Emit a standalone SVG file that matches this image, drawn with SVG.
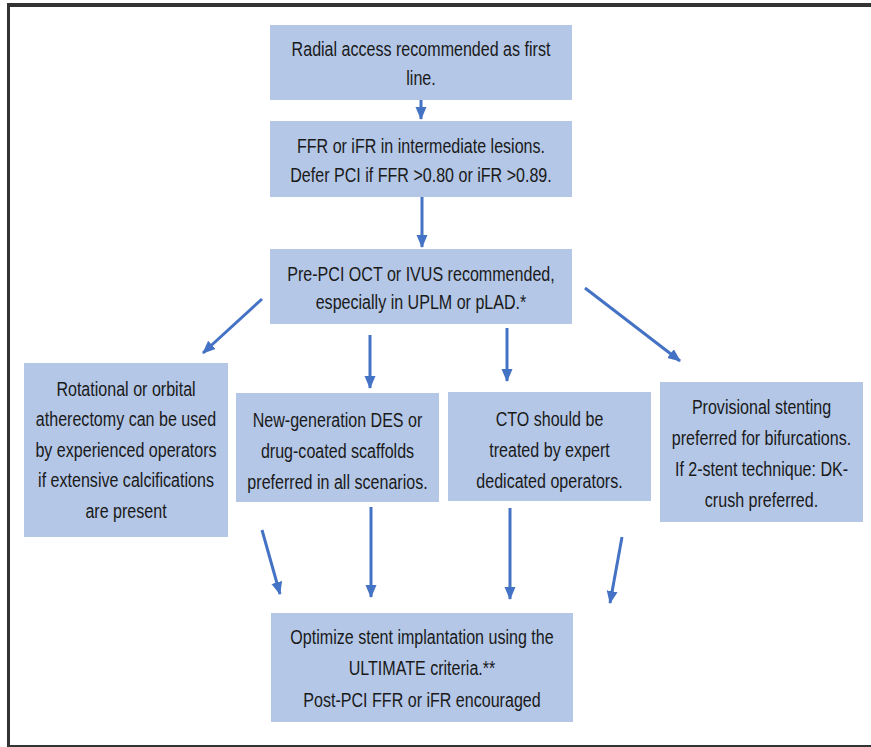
<svg xmlns="http://www.w3.org/2000/svg" width="871" height="747" viewBox="0 0 871 747">
<style>
.box{fill:#B4C7E7;}
.t{font-family:"Liberation Sans",Arial,sans-serif;font-size:21px;fill:#1a1a1a;text-anchor:middle;}
.c{stroke:#4472C4;stroke-width:3;fill:none;marker-end:url(#ah);}
.frame{stroke:#333;fill:none;}
</style>
<defs>
<marker id="ah" markerUnits="userSpaceOnUse" markerWidth="14" markerHeight="14" viewBox="0 0 14 14" refX="12" refY="7" orient="auto">
<path d="M0,1.5 L13,7 L0,12.5 Z" fill="#4472C4"/>
</marker>
</defs>
<rect x="0" y="0" width="871" height="747" fill="#ffffff"/>
<g id="frame">
<line class="frame" x1="7" y1="5" x2="871" y2="5" stroke-width="4"/>
<line class="frame" x1="8.5" y1="4" x2="8.5" y2="747" stroke-width="3"/>
<line class="frame" x1="7" y1="746" x2="871" y2="746" stroke-width="2"/>
</g>
<g id="connectors">
<line class="c" x1="421" y1="100" x2="421" y2="119"/>
<line class="c" x1="422" y1="197" x2="422" y2="247"/>
<line class="c" x1="262" y1="299" x2="203" y2="353"/>
<line class="c" x1="370" y1="335" x2="370" y2="388"/>
<line class="c" x1="507" y1="328" x2="507" y2="381"/>
<line class="c" x1="585" y1="288" x2="680" y2="361"/>
<line class="c" x1="262" y1="530" x2="280" y2="594"/>
<line class="c" x1="371" y1="507" x2="371" y2="597"/>
<line class="c" x1="510" y1="508" x2="510" y2="599"/>
<line class="c" x1="622" y1="537" x2="610" y2="603"/>
</g>
<g id="n1">
<rect class="box" x="270" y="25" width="302" height="75"/>
<g transform="translate(421,0) scale(0.765,1)">
<text class="t" x="0" y="56">Radial access recommended as first</text>
<text class="t" x="0" y="85">line.</text>
</g>
</g>
<g id="n2">
<rect class="box" x="270" y="121" width="302" height="76"/>
<g transform="translate(421,0) scale(0.765,1)">
<text class="t" x="0" y="153">FFR or iFR in intermediate lesions.</text>
<text class="t" x="0" y="182">Defer PCI if FFR &gt;0.80 or iFR &gt;0.89.</text>
</g>
</g>
<g id="n3">
<rect class="box" x="270" y="249" width="302" height="75"/>
<g transform="translate(421,0) scale(0.765,1)">
<text class="t" x="0" y="281">Pre-PCI OCT or IVUS recommended,</text>
<text class="t" x="0" y="309">especially in UPLM or pLAD.*</text>
</g>
</g>
<g id="n4">
<rect class="box" x="24" y="363" width="204" height="174"/>
<g transform="translate(126,0) scale(0.765,1)">
<text class="t" x="0" y="396">Rotational or orbital</text>
<text class="t" x="0" y="426">atherectomy can be used</text>
<text class="t" x="0" y="457">by experienced operators</text>
<text class="t" x="0" y="487">if extensive calcifications</text>
<text class="t" x="0" y="518">are present</text>
</g>
</g>
<g id="n5">
<rect class="box" x="236" y="393" width="203" height="109"/>
<g transform="translate(337.5,0) scale(0.765,1)">
<text class="t" x="0" y="427">New-generation DES or</text>
<text class="t" x="0" y="458">drug-coated scaffolds</text>
<text class="t" x="0" y="489">preferred in all scenarios.</text>
</g>
</g>
<g id="n6">
<rect class="box" x="448" y="392" width="203" height="109"/>
<g transform="translate(549.5,0) scale(0.765,1)">
<text class="t" x="0" y="426">CTO should be</text>
<text class="t" x="0" y="457">treated by expert</text>
<text class="t" x="0" y="488">dedicated operators.</text>
</g>
</g>
<g id="n7">
<rect class="box" x="660" y="382" width="203" height="140"/>
<g transform="translate(761.5,0) scale(0.765,1)">
<text class="t" x="0" y="414">Provisional stenting</text>
<text class="t" x="0" y="445">preferred for bifurcations.</text>
<text class="t" x="0" y="476">If 2-stent technique: DK-</text>
<text class="t" x="0" y="507">crush preferred.</text>
</g>
</g>
<g id="n8">
<rect class="box" x="271" y="613" width="302" height="109"/>
<g transform="translate(422,0) scale(0.765,1)">
<text class="t" x="0" y="644">Optimize stent implantation using the</text>
<text class="t" x="0" y="675">ULTIMATE criteria.**</text>
<text class="t" x="0" y="707">Post-PCI FFR or iFR encouraged</text>
</g>
</g>
</svg>
